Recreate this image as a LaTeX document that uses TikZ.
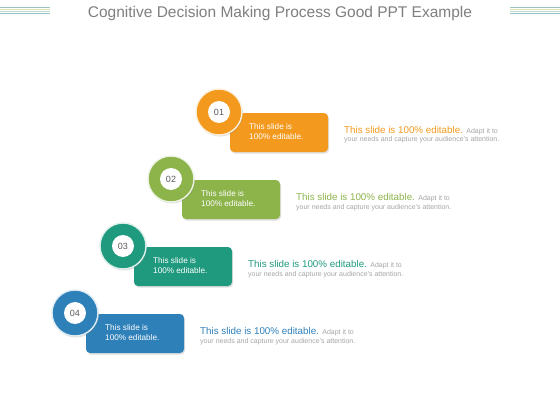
\documentclass[tikz,border=0pt]{standalone}
\usepackage{fontspec}
\setmainfont{Liberation Sans}
\usetikzlibrary{shadows}
\definecolor{cOne}{HTML}{F39A1E}
\definecolor{cTwo}{HTML}{8DB44B}
\definecolor{cThree}{HTML}{1F9A7E}
\definecolor{cFour}{HTML}{2E80B9}
\definecolor{titlegray}{HTML}{7F7F7F}
\definecolor{smallgray}{HTML}{A6A6A6}
\definecolor{numgray}{HTML}{595959}
\definecolor{lnA}{HTML}{9FBFC6}
\definecolor{lnB}{HTML}{DDE5AE}
\definecolor{lnC}{HTML}{C2D6D4}
\definecolor{lnD}{HTML}{8FC3BD}
\tikzset{
  stagebox/.style={fill=#1, rounded corners=4pt, drop shadow={shadow xshift=1pt, shadow yshift=-1.5pt, opacity=0.25}},
  stagecirc/.style={circle, fill=#1, draw=white!85!#1, line width=1.4pt, minimum size=46pt, inner sep=0pt, drop shadow={shadow xshift=1pt, shadow yshift=-1.5pt, opacity=0.25}},
  numcirc/.style={circle, fill=white, minimum size=22pt, inner sep=0pt, font=\fontsize{9}{10}\selectfont, text=numgray},
  boxtext/.style={anchor=west, align=left, text=white, font=\fontsize{8.2}{10}\selectfont, inner sep=0pt},
  bigtext/.style={anchor=base west, inner sep=0pt, text=#1, font=\fontsize{9.8}{10}\selectfont},
  smalltext/.style={anchor=base west, inner sep=0pt, text=smallgray, font=\fontsize{7}{7}\selectfont},
  titleline/.style={line width=1pt}
}
\begin{document}
\begin{tikzpicture}[x=1pt,y=-1pt]
\useasboundingbox[fill=white] (0,0) rectangle (560,420);
% title lines
\foreach \yy/\cc in {7.5/lnA,9.5/lnB,11.5/lnC,13.5/lnD}{
  \draw[titleline,\cc] (0,\yy) -- (50,\yy);
  \draw[titleline,\cc] (510,\yy) -- (560,\yy);
}
\node[text=titlegray, font=\fontsize{15.5}{17}\selectfont, inner sep=0pt] (title) at (280,13) {Cognitive Decision Making Process Good PPT Example};
% stages
\foreach \i/\cc/\num in {0/cOne/01,1/cTwo/02,2/cThree/03,3/cFour/04}{
  \pgfmathsetmacro{\dx}{-48*\i}
  \pgfmathsetmacro{\dy}{67*\i}
  \begin{scope}[shift={(\dx,\dy)}]
    \path[stagebox=\cc] (230,113) rectangle (328,152);
    \node[boxtext] (bt\num) at (249,132) {This slide is\\100\% editable.};
    \node[stagecirc=\cc] (c\num) at (219,112) {};
    \node[numcirc] (n\num) at (c\num) {\num};
    \node[bigtext=\cc] (big\num) at (344,133) {This slide is 100\% editable.};
    \node[smalltext, anchor=base west] (adapt\num) at ([xshift=3pt]big\num.base east) {Adapt it to};
    \node[smalltext] (small\num) at (344,142) {your needs and capture your audience's attention.};
  \end{scope}
}
\end{tikzpicture}
\end{document}
